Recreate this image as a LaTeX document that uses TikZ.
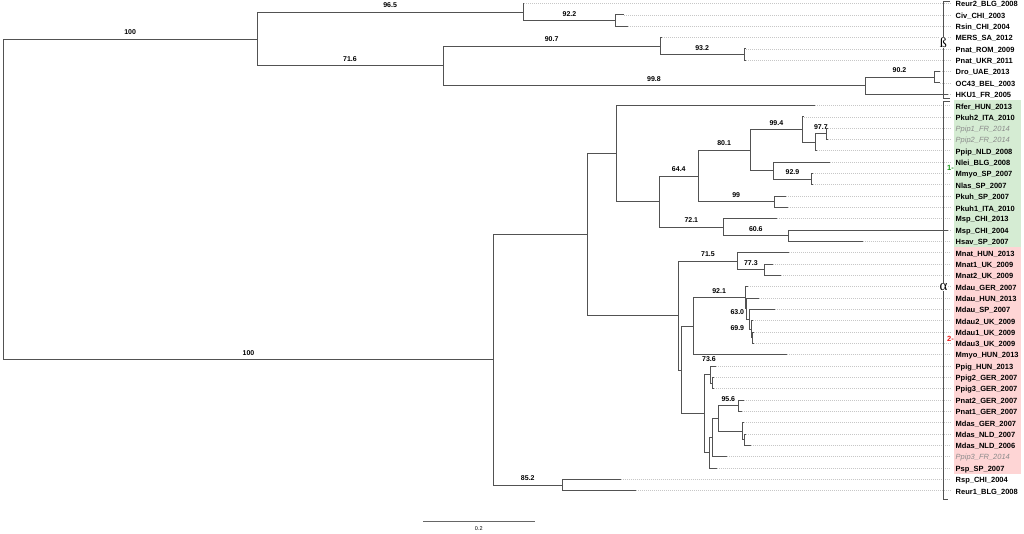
\documentclass[tikz,border=0pt]{standalone}
\usepackage{fontspec}
\setmainfont{Liberation Sans}
\newfontfamily\greekfont{Liberation Serif}
\definecolor{cladeA}{RGB}{213,236,211}
\definecolor{cladeB}{RGB}{254,213,213}
\definecolor{onegreen}{RGB}{20,150,20}
\definecolor{twored}{RGB}{235,20,20}
\tikzset{
  br/.style={draw=black!68, line width=0.8pt},
  lead/.style={draw=black!22, line width=0.6pt, dash pattern=on 1pt off 1pt, shorten >=5pt},
  tip/.style={anchor=west, inner sep=0pt, yshift=-1.3pt, font=\fontsize{7.5}{9}\selectfont\bfseries},
  gtip/.style={tip, font=\fontsize{7.5}{9}\selectfont\itshape, text=black!45},
  boot/.style={above=3pt, inner sep=1pt, font=\fontsize{7}{8}\selectfont\bfseries},
  clade/.style={fill=white, inner sep=0.4pt, font=\fontsize{14}{14}\greekfont},
  tag/.style={inner sep=0pt, font=\fontsize{7.5}{8}\selectfont\bfseries},
}
\begin{document}
\begin{tikzpicture}[x=1pt, y=-1pt]
    \def \r {11.33}
    \useasboundingbox (0,0) rectangle (1024,533);

    \fill[cladeA] (954,3.5+8.5*\r) rectangle (1021,3.5+21.5*\r);
    \fill[cladeB] (954,3.5+21.5*\r) rectangle (1021,3.5+41.5*\r);

    \coordinate (root) at (3.3,3.5+17.286*\r);
    \coordinate (bA) at (257,3.5+3.125*\r);
    \coordinate (bB) at (523.3,3.5+0.75*\r);
    \coordinate (bD) at (615.7,3.5+1.5*\r);
    \coordinate (bC) at (443,3.5+5.5*\r);
    \coordinate (bE) at (660.3,3.5+3.75*\r);
    \coordinate (bG) at (744,3.5+4.5*\r);
    \coordinate (bF) at (865,3.5+7.25*\r);
    \coordinate (bH) at (934,3.5+6.5*\r);

    \coordinate (aI) at (493.6,3.5+31.447*\r);
    \coordinate (aJ) at (587.3,3.5+20.394*\r);
    \coordinate (aK) at (562,3.5+42.5*\r);
    \coordinate (aL) at (616.7,3.5+13.242*\r);
    \coordinate (aN) at (659.3,3.5+17.484*\r);
    \coordinate (aO) at (698.3,3.5+15.219*\r);
    \coordinate (aP) at (750,3.5+12.938*\r);
    \coordinate (aS) at (802.7,3.5+11.125*\r);
    \coordinate (aU) at (815,3.5+12.25*\r);
    \coordinate (aV) at (826.7,3.5+11.5*\r);
    \coordinate (aT) at (773.3,3.5+14.75*\r);
    \coordinate (aW) at (811.7,3.5+15.5*\r);
    \coordinate (aQ) at (774,3.5+17.5*\r);
    \coordinate (aX) at (723.3,3.5+19.75*\r);
    \coordinate (aY) at (788.3,3.5+20.5*\r);
    \coordinate (aM) at (678.3,3.5+27.547*\r);
    \coordinate (aZ) at (737.7,3.5+22.75*\r);
    \coordinate (aZZ) at (764,3.5+23.5*\r);
    \coordinate (aAA) at (681,3.5+32.344*\r);
    \coordinate (aAB) at (693.3,3.5+28.484*\r);
    \coordinate (aAE) at (745,3.5+25.969*\r);
    \coordinate (aAF) at (746.7,3.5+26.938*\r);
    \coordinate (aAG) at (749.5,3.5+27.875*\r);
    \coordinate (aAH) at (751,3.5+28.75*\r);
    \coordinate (aAI) at (752.7,3.5+29.5*\r);
    \coordinate (aAC) at (704.3,3.5+36.203*\r);
    \coordinate (aAJ) at (710.7,3.5+32.75*\r);
    \coordinate (aAL) at (712.3,3.5+33.5*\r);
    \coordinate (aAK) at (709.3,3.5+39.656*\r);
    \coordinate (aAM) at (712.3,3.5+38.313*\r);
    \coordinate (aAN) at (718.3,3.5+36.625*\r);
    \coordinate (aAO) at (738.3,3.5+35.5*\r);
    \coordinate (aAP) at (742.7,3.5+37.75*\r);
    \coordinate (aAQ) at (744.3,3.5+38.5*\r);

    \draw[br] (root) |- (bA) node[boot,pos=0.75] (s100a) {100};
    \draw[br] (root) |- (aI) node[boot,pos=0.75] (s100b) {100};
    \draw[br] (bA) |- (bB) node[boot,pos=0.75] (s965) {96.5};
    \draw[br] (bA) |- (bC) node[boot,pos=0.75] (s716) {71.6};
    \draw[br] (bB) |- (bD) node[boot,pos=0.75] (s922) {92.2};
    \draw[br] (bC) |- (bE) node[boot,pos=0.75] (s907) {90.7};
    \draw[br] (bC) |- (bF) node[boot,pos=0.75] (s998) {99.8};
    \draw[br] (bE) |- (bG) node[boot,pos=0.75] (s932) {93.2};
    \draw[br] (bF) |- (bH) node[boot,pos=0.75] (s902) {90.2};
    \draw[br] (aI) |- (aJ);
    \draw[br] (aI) |- (aK) node[boot,pos=0.75] (s852) {85.2};
    \draw[br] (aJ) |- (aL);
    \draw[br] (aJ) |- (aM);
    \draw[br] (aL) |- (aN);
    \draw[br] (aN) |- (aO) node[boot,pos=0.75] (s644) {64.4};
    \draw[br] (aN) |- (aX) node[boot,pos=0.75] (s721) {72.1};
    \draw[br] (aO) |- (aP) node[boot,pos=0.75] (s801) {80.1};
    \draw[br] (aO) |- (aQ) node[boot,pos=0.75] (s990) {99};
    \draw[br] (aP) |- (aS) node[boot,pos=0.75] (s994) {99.4};
    \draw[br] (aP) |- (aT);
    \draw[br] (aS) |- (aU);
    \draw[br] (aU) |- (aV) node[boot,pos=0.75] (s977) {97.7};
    \draw[br] (aT) |- (aW) node[boot,pos=0.75] (s929) {92.9};
    \draw[br] (aX) |- (aY) node[boot,pos=0.75] (s606) {60.6};
    \draw[br] (aM) |- (aZ) node[boot,pos=0.75] (s715) {71.5};
    \draw[br] (aM) |- (aAA);
    \draw[br] (aZ) |- (aZZ) node[boot,pos=0.75] (s773) {77.3};
    \draw[br] (aAA) |- (aAB);
    \draw[br] (aAA) |- (aAC);
    \draw[br] (aAB) |- (aAE) node[boot,pos=0.75] (s921) {92.1};
    \draw[br] (aAE) |- (aAF);
    \draw[br] (aAF) |- (aAG);
    \draw[br] (aAG) |- (aAH);
    \draw[br] (aAH) |- (aAI);
    \draw[br] (aAC) |- (aAJ);
    \draw[br] (aAC) |- (aAK);
    \draw[br] (aAJ) |- (aAL);
    \draw[br] (aAK) |- (aAM);
    \draw[br] (aAM) |- (aAN);
    \draw[br] (aAN) |- (aAO) node[boot,pos=0.75] (s956) {95.6};
    \draw[br] (aAN) |- (aAP);
    \draw[br] (aAP) |- (aAQ);

    \node[boot,anchor=center] (s630) at (737.3,315.3) {63.0};
    \node[boot,anchor=center] (s699) at (737.3,330.7) {69.9};
    \node[boot,anchor=center] (s736) at (709,362.3) {73.6};

    \draw[br] (bB) |- (524,3.5+0*\r) coordinate (tReur2);
    \node[tip] (Reur2) at (955.5,3.5+0*\r) {Reur2\_BLG\_2008};
    \draw[lead] (tReur2) -- (tReur2 -| Reur2.west);
    \draw[br] (bD) |- (624.3,3.5+1*\r) coordinate (tCiv);
    \node[tip] (Civ) at (955.5,3.5+1*\r) {Civ\_CHI\_2003};
    \draw[lead] (tCiv) -- (tCiv -| Civ.west);
    \draw[br] (bD) |- (627.7,3.5+2*\r) coordinate (tRsin);
    \node[tip] (Rsin) at (955.5,3.5+2*\r) {Rsin\_CHI\_2004};
    \draw[lead] (tRsin) -- (tRsin -| Rsin.west);
    \draw[br] (bE) |- (662,3.5+3*\r) coordinate (tMERS);
    \node[tip] (MERS) at (955.5,3.5+3*\r) {MERS\_SA\_2012};
    \draw[lead] (tMERS) -- (tMERS -| MERS.west);
    \draw[br] (bG) |- (746,3.5+4*\r) coordinate (tPnatROM);
    \node[tip] (PnatROM) at (955.5,3.5+4*\r) {Pnat\_ROM\_2009};
    \draw[lead] (tPnatROM) -- (tPnatROM -| PnatROM.west);
    \draw[br] (bG) |- (746,3.5+5*\r) coordinate (tPnatUKR);
    \node[tip] (PnatUKR) at (955.5,3.5+5*\r) {Pnat\_UKR\_2011};
    \draw[lead] (tPnatUKR) -- (tPnatUKR -| PnatUKR.west);
    \draw[br] (bH) |- (940,3.5+6*\r) coordinate (tDro);
    \node[tip] (Dro) at (955.5,3.5+6*\r) {Dro\_UAE\_2013};
    \draw[lead] (tDro) -- (tDro -| Dro.west);
    \draw[br] (bH) |- (940,3.5+7*\r) coordinate (tOC43);
    \node[tip] (OC43) at (955.5,3.5+7*\r) {OC43\_BEL\_2003};
    \draw[lead] (tOC43) -- (tOC43 -| OC43.west);
    \draw[br] (bF) |- (948,3.5+8*\r) coordinate (tHKU1);
    \node[tip] (HKU1) at (955.5,3.5+8*\r) {HKU1\_FR\_2005};
    \draw[lead] (tHKU1) -- (tHKU1 -| HKU1.west);

    \draw[br] (aL) |- (815,3.5+9*\r) coordinate (tRfer);
    \node[tip] (Rfer) at (955.5,3.5+9*\r) {Rfer\_HUN\_2013};
    \draw[lead] (tRfer) -- (tRfer -| Rfer.west);
    \draw[br] (aS) |- (804,3.5+10*\r) coordinate (tPkuh2);
    \node[tip] (Pkuh2) at (955.5,3.5+10*\r) {Pkuh2\_ITA\_2010};
    \draw[lead] (tPkuh2) -- (tPkuh2 -| Pkuh2.west);
    \draw[br] (aV) |- (828,3.5+11*\r) coordinate (tPpip1);
    \node[gtip] (Ppip1) at (955.5,3.5+11*\r) {Ppip1\_FR\_2014};
    \draw[lead] (tPpip1) -- (tPpip1 -| Ppip1.west);
    \draw[br] (aV) |- (828,3.5+12*\r) coordinate (tPpip2);
    \node[gtip] (Ppip2) at (955.5,3.5+12*\r) {Ppip2\_FR\_2014};
    \draw[lead] (tPpip2) -- (tPpip2 -| Ppip2.west);
    \draw[br] (aU) |- (816.5,3.5+13*\r) coordinate (tPpipNLD);
    \node[tip] (PpipNLD) at (955.5,3.5+13*\r) {Ppip\_NLD\_2008};
    \draw[lead] (tPpipNLD) -- (tPpipNLD -| PpipNLD.west);
    \draw[br] (aT) |- (830,3.5+14*\r) coordinate (tNlei);
    \node[tip] (Nlei) at (955.5,3.5+14*\r) {Nlei\_BLG\_2008};
    \draw[lead] (tNlei) -- (tNlei -| Nlei.west);
    \draw[br] (aW) |- (813,3.5+15*\r) coordinate (tMmyoSP);
    \node[tip] (MmyoSP) at (955.5,3.5+15*\r) {Mmyo\_SP\_2007};
    \draw[lead] (tMmyoSP) -- (tMmyoSP -| MmyoSP.west);
    \draw[br] (aW) |- (813,3.5+16*\r) coordinate (tNlas);
    \node[tip] (Nlas) at (955.5,3.5+16*\r) {Nlas\_SP\_2007};
    \draw[lead] (tNlas) -- (tNlas -| Nlas.west);
    \draw[br] (aQ) |- (786,3.5+17*\r) coordinate (tPkuhSP);
    \node[tip] (PkuhSP) at (955.5,3.5+17*\r) {Pkuh\_SP\_2007};
    \draw[lead] (tPkuhSP) -- (tPkuhSP -| PkuhSP.west);
    \draw[br] (aQ) |- (787.7,3.5+18*\r) coordinate (tPkuh1);
    \node[tip] (Pkuh1) at (955.5,3.5+18*\r) {Pkuh1\_ITA\_2010};
    \draw[lead] (tPkuh1) -- (tPkuh1 -| Pkuh1.west);
    \draw[br] (aX) |- (776.7,3.5+19*\r) coordinate (tMspA);
    \node[tip] (MspA) at (955.5,3.5+19*\r) {Msp\_CHI\_2013};
    \draw[lead] (tMspA) -- (tMspA -| MspA.west);
    \draw[br] (aY) |- (948,3.5+20*\r) coordinate (tMspB);
    \node[tip] (MspB) at (955.5,3.5+20*\r) {Msp\_CHI\_2004};
    \draw[lead] (tMspB) -- (tMspB -| MspB.west);
    \draw[br] (aY) |- (862.7,3.5+21*\r) coordinate (tHsav);
    \node[tip] (Hsav) at (955.5,3.5+21*\r) {Hsav\_SP\_2007};
    \draw[lead] (tHsav) -- (tHsav -| Hsav.west);

    \draw[br] (aZ) |- (789.3,3.5+22*\r) coordinate (tMnat);
    \node[tip] (Mnat) at (955.5,3.5+22*\r) {Mnat\_HUN\_2013};
    \draw[lead] (tMnat) -- (tMnat -| Mnat.west);
    \draw[br] (aZZ) |- (772.7,3.5+23*\r) coordinate (tMnat1);
    \node[tip] (Mnat1) at (955.5,3.5+23*\r) {Mnat1\_UK\_2009};
    \draw[lead] (tMnat1) -- (tMnat1 -| Mnat1.west);
    \draw[br] (aZZ) |- (781,3.5+24*\r) coordinate (tMnat2);
    \node[tip] (Mnat2) at (955.5,3.5+24*\r) {Mnat2\_UK\_2009};
    \draw[lead] (tMnat2) -- (tMnat2 -| Mnat2.west);
    \draw[br] (aAE) |- (748,3.5+25*\r) coordinate (tMdauGER);
    \node[tip] (MdauGER) at (955.5,3.5+25*\r) {Mdau\_GER\_2007};
    \draw[lead] (tMdauGER) -- (tMdauGER -| MdauGER.west);
    \draw[br] (aAF) |- (759.3,3.5+26*\r) coordinate (tMdauHUN);
    \node[tip] (MdauHUN) at (955.5,3.5+26*\r) {Mdau\_HUN\_2013};
    \draw[lead] (tMdauHUN) -- (tMdauHUN -| MdauHUN.west);
    \draw[br] (aAG) |- (775,3.5+27*\r) coordinate (tMdauSP);
    \node[tip] (MdauSP) at (955.5,3.5+27*\r) {Mdau\_SP\_2007};
    \draw[lead] (tMdauSP) -- (tMdauSP -| MdauSP.west);
    \draw[br] (aAH) |- (753,3.5+28*\r) coordinate (tMdau2);
    \node[tip] (Mdau2) at (955.5,3.5+28*\r) {Mdau2\_UK\_2009};
    \draw[lead] (tMdau2) -- (tMdau2 -| Mdau2.west);
    \draw[br] (aAI) |- (754,3.5+29*\r) coordinate (tMdau1);
    \node[tip] (Mdau1) at (955.5,3.5+29*\r) {Mdau1\_UK\_2009};
    \draw[lead] (tMdau1) -- (tMdau1 -| Mdau1.west);
    \draw[br] (aAI) |- (754,3.5+30*\r) coordinate (tMdau3);
    \node[tip] (Mdau3) at (955.5,3.5+30*\r) {Mdau3\_UK\_2009};
    \draw[lead] (tMdau3) -- (tMdau3 -| Mdau3.west);
    \draw[br] (aAB) |- (786.7,3.5+31*\r) coordinate (tMmyoHUN);
    \node[tip] (MmyoHUN) at (955.5,3.5+31*\r) {Mmyo\_HUN\_2013};
    \draw[lead] (tMmyoHUN) -- (tMmyoHUN -| MmyoHUN.west);
    \draw[br] (aAJ) |- (716,3.5+32*\r) coordinate (tPpig);
    \node[tip] (Ppig) at (955.5,3.5+32*\r) {Ppig\_HUN\_2013};
    \draw[lead] (tPpig) -- (tPpig -| Ppig.west);
    \draw[br] (aAL) |- (714,3.5+33*\r) coordinate (tPpig2);
    \node[tip] (Ppig2) at (955.5,3.5+33*\r) {Ppig2\_GER\_2007};
    \draw[lead] (tPpig2) -- (tPpig2 -| Ppig2.west);
    \draw[br] (aAL) |- (714,3.5+34*\r) coordinate (tPpig3);
    \node[tip] (Ppig3) at (955.5,3.5+34*\r) {Ppig3\_GER\_2007};
    \draw[lead] (tPpig3) -- (tPpig3 -| Ppig3.west);
    \draw[br] (aAO) |- (744,3.5+35*\r) coordinate (tPnat2);
    \node[tip] (Pnat2) at (955.5,3.5+35*\r) {Pnat2\_GER\_2007};
    \draw[lead] (tPnat2) -- (tPnat2 -| Pnat2.west);
    \draw[br] (aAO) |- (741.7,3.5+36*\r) coordinate (tPnat1);
    \node[tip] (Pnat1) at (955.5,3.5+36*\r) {Pnat1\_GER\_2007};
    \draw[lead] (tPnat1) -- (tPnat1 -| Pnat1.west);
    \draw[br] (aAP) |- (744,3.5+37*\r) coordinate (tMdasGER);
    \node[tip] (MdasGER) at (955.5,3.5+37*\r) {Mdas\_GER\_2007};
    \draw[lead] (tMdasGER) -- (tMdasGER -| MdasGER.west);
    \draw[br] (aAQ) |- (746,3.5+38*\r) coordinate (tMdasA);
    \node[tip] (MdasA) at (955.5,3.5+38*\r) {Mdas\_NLD\_2007};
    \draw[lead] (tMdasA) -- (tMdasA -| MdasA.west);
    \draw[br] (aAQ) |- (750.7,3.5+39*\r) coordinate (tMdasB);
    \node[tip] (MdasB) at (955.5,3.5+39*\r) {Mdas\_NLD\_2006};
    \draw[lead] (tMdasB) -- (tMdasB -| MdasB.west);
    \draw[br] (aAM) |- (726.7,3.5+40*\r) coordinate (tPpip3);
    \node[gtip] (Ppip3) at (955.5,3.5+40*\r) {Ppip3\_FR\_2014};
    \draw[lead] (tPpip3) -- (tPpip3 -| Ppip3.west);
    \draw[br] (aAK) |- (716.7,3.5+41*\r) coordinate (tPsp);
    \node[tip] (Psp) at (955.5,3.5+41*\r) {Psp\_SP\_2007};
    \draw[lead] (tPsp) -- (tPsp -| Psp.west);

    \draw[br] (aK) |- (620.7,3.5+42*\r) coordinate (tRsp);
    \node[tip] (Rsp) at (955.5,3.5+42*\r) {Rsp\_CHI\_2004};
    \draw[lead] (tRsp) -- (tRsp -| Rsp.west);
    \draw[br] (aK) |- (636,3.5+43*\r) coordinate (tReur1);
    \node[tip] (Reur1) at (955.5,3.5+43*\r) {Reur1\_BLG\_2008};
    \draw[lead] (tReur1) -- (tReur1 -| Reur1.west);

    \draw[br] (950,1.5) -- (943.3,1.5) -- (943.3,98.5) -- (950,98.5);
    \draw[br] (950,101.5) -- (943.3,101.5) -- (943.3,499) -- (948,499);
    \node[clade] (beta) at (943.3,42.5) {ß};
    \node[clade, font=\fontsize{15}{15}\greekfont] (alpha) at (943.5,287) {α};
    \node[tag, text=onegreen] (one) at (950.5,167.5) {1-};
    \node[tag, text=twored] (two) at (950.5,338.5) {2-};

    \coordinate (barL) at (423,521.7);
    \coordinate (barR) at (534.6,521.7);
    \draw[draw=black!60, line width=1pt] (barL) -- (barR) node[midway, below=3pt, inner sep=1pt, font=\fontsize{5.5}{6}\selectfont] (barlab) {0.2};
\end{tikzpicture}
\end{document}
